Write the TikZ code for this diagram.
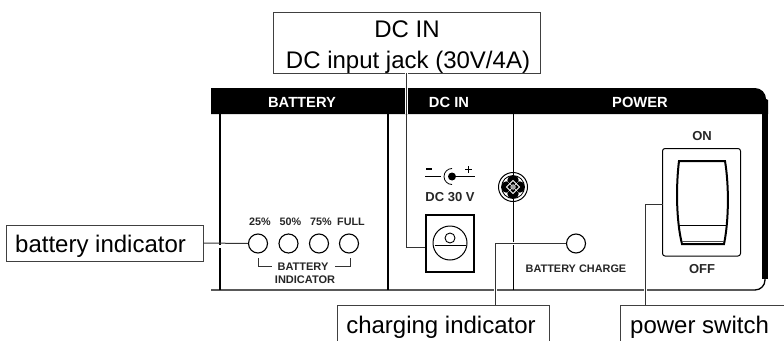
\documentclass[tikz,border=0pt]{standalone}
\usepackage{fontspec}
\setmainfont{Liberation Sans}
\tikzset{
 callout/.style={draw=black!75,line width=0.9pt,fill=white},
 lead/.style={draw=black!80,line width=1pt},
 halo/.style={draw=white,line width=3pt},
 wall/.style={draw=black,line width=1.3pt},
 led/.style={circle,draw=black,line width=1.1pt,fill=white,minimum size=19pt,inner sep=0pt},
 lab/.style={font=\fontsize{24}{26}\selectfont,text=black,inner sep=0pt},
 head/.style={font=\bfseries\fontsize{14.7}{16}\selectfont,text=white,inner sep=0pt},
 small/.style={font=\bfseries\fontsize{10.8}{12}\selectfont,text=black!85,inner sep=0pt},
 mid/.style={font=\bfseries\fontsize{13}{14}\selectfont,text=black!85,inner sep=0pt}
}
\begin{document}
\begin{tikzpicture}[x=1pt,y=-1pt]
\useasboundingbox (0,0) rectangle (784,340);
% panel
\fill[black] (211,88) -- (755,88) arc[start angle=270,end angle=360,radius=11] -- (766,99) -- (768,100) -- (768,114) -- (211,114) -- cycle;
\fill[black] (762,100) rectangle (768,279);
\draw[wall] (211,290) -- (755,290) arc[start angle=90,end angle=0,radius=10] -- (765,279);
\draw[wall] (220,114) -- (220,290);
\draw[wall] (388,114) -- (388,290);
\draw[wall] (513.5,114) -- (513.5,290);
\node[head] (hb) at (302,102.5) {BATTERY};
\node[head] (hd) at (449,102.5) {DC IN};
\node[head] (hp) at (640,102.5) {POWER};
% LEDs
\node[led] (l1) at (258,243.5) {};
\node[led] (l2) at (288.5,243.5) {};
\node[led] (l3) at (319,243.5) {};
\node[led] (l4) at (349,243.5) {};
\node[small] (t1) at (260,222) {25\%};
\node[small] (t2) at (290.5,222) {50\%};
\node[small] (t3) at (321,222) {75\%};
\node[small] (t4) at (351,222) {FULL};
\node[small,font=\bfseries\fontsize{11}{12}\selectfont] (bi1) at (303,267) {BATTERY};
\node[small,font=\bfseries\fontsize{11}{12}\selectfont] (bi2) at (305,280) {INDICATOR};
\draw[black!80,line width=0.7pt] (258,258) |- (272,266.5);
\draw[black!80,line width=0.7pt] (350,258) |- (335,266.5);
% DC symbol
\coordinate (sa) at (425,176.5);
\coordinate (sb) at (475,176.5);
\draw[black,line width=0.8pt] (sa) -- (sb);
\fill[white] (441,166) rectangle (450,186);
\draw[black,line width=0.8pt] (452,168.5) arc[start angle=270,end angle=90,radius=8];
\fill[black] (452,176.5) circle (4);
\draw[black,line width=1.5pt] (426,169) -- (432,169);
\draw[black,line width=1.2pt] (465,169.5) -- (472,169.5) (468.5,166) -- (468.5,173);
\node[mid] (dc) at (450,197) {DC 30 V};
% jack
\node[draw=black,line width=2pt,minimum width=48pt,minimum height=57pt,inner sep=0pt] (jack) at (450,243) {};
\node[circle,draw=black,line width=1pt,minimum size=34pt,inner sep=0pt] (jo) at (450,243) {};
\node[circle,draw=black,line width=0.9pt,minimum size=10pt,inner sep=0pt] (ji) at (450,238) {};
\draw[black,line width=1pt] (434.5,245.5) -- (465.5,245.5);
% screw
\node[circle,draw=black,line width=1pt,fill=white,minimum size=29pt,inner sep=0pt] (sc) at (513,187) {};
\node[circle,draw=black,line width=0.8pt,fill=white,minimum size=23pt,inner sep=0pt] (sd) at (513,187) {};
\fill[black,rounded corners=1pt] (509,176) -- (517,176) -- (519,181) -- (513,186) -- (507,181) -- cycle;
\fill[black,rounded corners=1pt] (509,198) -- (517,198) -- (519,193) -- (513,188) -- (507,193) -- cycle;
\fill[black,rounded corners=1pt] (502,183) -- (502,191) -- (507,193) -- (512,187) -- (507,181) -- cycle;
\fill[black,rounded corners=1pt] (524,183) -- (524,191) -- (519,193) -- (514,187) -- (519,181) -- cycle;
\draw[white,line width=1pt] (513,180.5) -- (519.5,187) -- (513,193.5) -- (506.5,187) -- cycle;
\fill[black!35] (513,184) -- (516,187) -- (513,190) -- (510,187) -- cycle;
\draw[wall] (513.5,172) -- (513.5,176);
\draw[wall] (513.5,198) -- (513.5,202);
% charge LED
\node[led] (lc) at (576,243.5) {};
\node[small,font=\bfseries\fontsize{10.9}{12}\selectfont] (cht) at (576,269) {BATTERY CHARGE};
% switch
\node[mid] (on) at (702,136.5) {ON};
\node[mid] (off) at (702,269.5) {OFF};
\draw[black,line width=1pt,rounded corners=2.5pt] (662.5,148.5) rectangle (740.5,256) ;
\coordinate (swl) at (662.5,204);
\draw[black,line width=2pt,fill=white] (679,161) -- (725,161) .. controls (729,185) and (729,220) .. (724,244) -- (682,244) .. controls (676,220) and (676,185) .. (679,161) -- cycle;
\draw[black,line width=1pt] (678,225.5) -- (725.5,225.5);
\draw[black!70,line width=1.5pt] (682,241.5) -- (724,241.5);
% callouts and leaders
\node[callout,minimum width=197pt,minimum height=36pt,inner sep=0pt] (bat) at (104.5,243) {};
\node[lab,anchor=base west] (batt) at (15,252) {battery indicator};
\draw[callout] (273,12) rectangle (540,73);
\coordinate (dctop) at (406,73);
\coordinate (dcelbow) at (406,247);
\coordinate (dcend) at (425,247);
\draw[halo] (dctop) -- (406,114);
\draw[lead] (dctop) -- (dcelbow) -- (dcend);
\node[lab,anchor=base] (dc1) at (407,37) {DC IN};
\node[lab,anchor=base] (dc2) at (408,68) {DC input jack (30V/4A)};
\draw[halo] (217,246) -- (223,246);
\draw[lead] (bat.east) -- (l1.west);
\coordinate (chb) at (495,305);
\coordinate (pwb) at (645,305);
\draw[halo] (495,287) -- (495,293);
\draw[halo] (510,243.5) -- (517,243.5);
\draw[halo] (645,287) -- (645,293);
\draw[lead] (lc.west) -| (chb);
\draw[lead] (swl) -| (pwb);
\draw[callout] (337.5,340.5) -- (337.5,305) -- (549,305) -- (549,340.5);
\draw[callout] (620.5,340.5) -- (620.5,305) -- (784.5,305);
\node[lab,anchor=base] (chl) at (441,333) {charging indicator};
\node[lab,anchor=base west] (pwl) at (630,333) {power switch};
\end{tikzpicture}
\end{document}
